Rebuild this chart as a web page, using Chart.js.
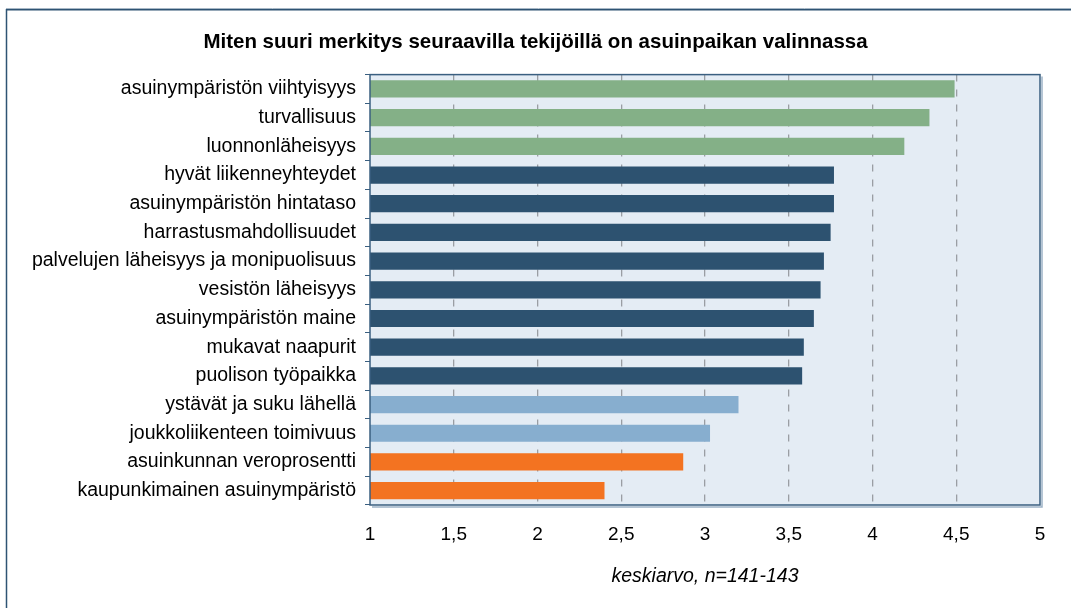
<!DOCTYPE html>
<html>
<head>
<meta charset="utf-8">
<script src="https://cdn.jsdelivr.net/npm/chart.js@4"></script>
<style>
html,body{margin:0;padding:0;background:#fff;}
#wrap{position:relative;width:1071px;height:608px;}
</style>
</head>
<body>
<div id="wrap"><canvas id="c" width="1071" height="608"></canvas></div>
<script>
const categories = [
  "asuinympäristön viihtyisyys",
  "turvallisuus",
  "luonnonläheisyys",
  "hyvät liikenneyhteydet",
  "asuinympäristön hintataso",
  "harrastusmahdollisuudet",
  "palvelujen läheisyys ja monipuolisuus",
  "vesistön läheisyys",
  "asuinympäristön maine",
  "mukavat naapurit",
  "puolison työpaikka",
  "ystävät ja suku lähellä",
  "joukkoliikenteen toimivuus",
  "asuinkunnan veroprosentti",
  "kaupunkimainen asuinympäristö"
];
const values = [4.49, 4.34, 4.19, 3.77, 3.77, 3.75, 3.71, 3.69, 3.65, 3.59, 3.58, 3.20, 3.03, 2.87, 2.40];
const groups = ["g","g","g","n","n","n","n","n","n","n","n","l","l","o","o"];
const groupColors = {g:"#84B087", n:"#2D5270", l:"#87AECF", o:"#F37321"};
const xTicks = [1, 1.5, 2, 2.5, 3, 3.5, 4, 4.5, 5];
const titleText = "Miten suuri merkitys seuraavilla tekijöillä on asuinpaikan valinnassa";
const xTitle = "keskiarvo, n=141-143";

const FONT = 'Arial, "Liberation Sans", sans-serif';

const framePlugin = {
  id: 'frame',
  beforeDraw(chart) {
    const {ctx, chartArea: a} = chart;
    ctx.save();
    ctx.fillStyle = '#E4ECF4';
    ctx.fillRect(a.left, a.top, a.right - a.left, a.bottom - a.top);
    // outer frame
    ctx.strokeStyle = '#A8B8C6';
    ctx.lineWidth = 1;
    ctx.beginPath(); ctx.moveTo(6, 8.5); ctx.lineTo(1071, 8.5); ctx.stroke();
    ctx.strokeStyle = '#2E5373';
    ctx.lineWidth = 1.5;
    ctx.beginPath(); ctx.moveTo(6.5, 608); ctx.lineTo(6.5, 9.75); ctx.lineTo(1071, 9.75); ctx.stroke();
    ctx.restore();
  },
  afterDatasetsDraw(chart) {
    const {ctx, chartArea: a} = chart;
    ctx.save();
    ctx.strokeStyle = '#9DB2C6';
    ctx.lineWidth = 1.5;
    ctx.beginPath();
    ctx.moveTo(a.right + 2, a.top + 2); ctx.lineTo(a.right + 2, a.bottom + 2); ctx.lineTo(a.left + 2, a.bottom + 2);
    ctx.stroke();
    ctx.strokeStyle = '#3A5F80';
    ctx.lineWidth = 1.5;
    ctx.strokeRect(a.left, a.top, a.right - a.left, a.bottom - a.top);
    ctx.restore();
  }
};

new Chart(document.getElementById('c'), {
  type: 'bar',
  data: {
    labels: categories,
    datasets: [{
      data: values,
      backgroundColor: groups.map(g => groupColors[g]),
      borderWidth: 0,
      categoryPercentage: 0.6,
      barPercentage: 1.0
    }]
  },
  options: {
    indexAxis: 'y',
    responsive: false,
    animation: false,
    devicePixelRatio: 1,
    layout: {padding: {left: 0, right: 0, top: 0, bottom: 0}},
    plugins: {
      legend: {display: false},
      tooltip: {enabled: false},
      title: {
        display: true,
        text: titleText,
        color: '#000',
        font: {family: FONT, size: 20.5, weight: 'bold', lineHeight: 1.2},
        padding: {top: 30, bottom: 20}
      }
    },
    scales: {
      x: {
        type: 'linear',
        min: 1, max: 5,
        afterBuildTicks(scale) { scale.ticks = xTicks.map(v => ({value: v})); },
        afterFit(scale) { scale.height = 103; },
        ticks: {
          color: '#000',
          padding: 18,
          maxRotation: 0,
          font: {family: FONT, size: 19},
          callback: v => String(v).replace('.', ',')
        },
        grid: {
          drawTicks: false,
          color: ctx => (ctx.tick && (ctx.tick.value === 1 || ctx.tick.value === 5)) ? 'rgba(0,0,0,0)' : '#9A9EA3',
          lineWidth: 1.3
        },
        border: {display: false, dash: [7, 8]},
        title: {
          display: true,
          text: xTitle,
          color: '#000',
          font: {family: FONT, size: 19.5, style: 'italic', lineHeight: 1.2},
          padding: {top: 0, bottom: 20}
        }
      },
      y: {
        type: 'category',
        afterFit(scale) { scale.width = 370; },
        ticks: {
          color: '#000',
          padding: 9,
          autoSkip: false,
          font: {family: FONT, size: 19.5}
        },
        grid: {
          offset: true,
          drawOnChartArea: false,
          drawTicks: true,
          tickLength: 5,
          color: '#3A5F80',
          lineWidth: 1
        },
        border: {display: false}
      },
      yRight: {
        type: 'linear',
        position: 'right',
        afterFit(scale) { scale.width = 31; },
        ticks: {display: false},
        grid: {display: false, drawOnChartArea: false},
        border: {display: false}
      }
    }
  },
  plugins: [framePlugin]
});
</script>
</body>
</html>
